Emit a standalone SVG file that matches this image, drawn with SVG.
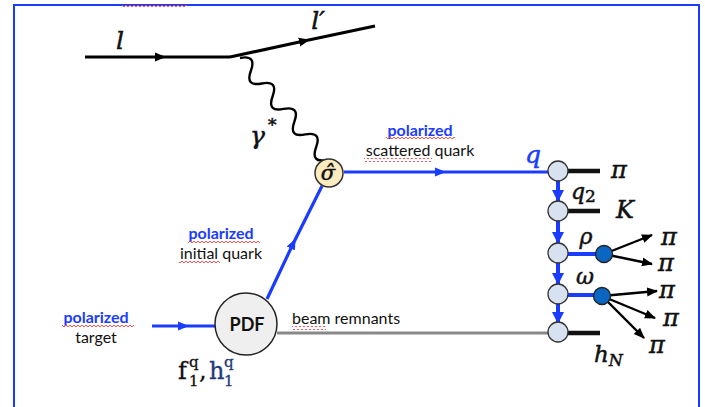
<svg xmlns="http://www.w3.org/2000/svg" width="705" height="407" viewBox="0 0 705 407">
<style>
.lab{font-family:Lato,"Open Sans","Liberation Sans",sans-serif;font-size:16px;fill:#111}
.pol{font-family:Lato,"Open Sans","Liberation Sans",sans-serif;font-size:16px;font-weight:bold;fill:#1a3cff}
.math{font-family:"DejaVu Serif","Liberation Serif",serif;font-style:italic;fill:#111;stroke:#111;stroke-width:0.5}
.mathr{font-family:"DejaVu Serif","Liberation Serif",serif;fill:#111;stroke:#111;stroke-width:0.3}
.blk{stroke:#000;stroke-width:3.2;fill:none}
.blu{stroke:#1a3cff;stroke-width:3.2;fill:none}
.stub{stroke:#111;stroke-width:4.5}
.fc{fill:#d8e1ef;stroke:#333;stroke-width:1.3}
.dc{fill:#0b66c2;stroke:#222;stroke-width:1.3}
.dec{stroke:#000;stroke-width:2.4;fill:none}
.sq{fill:url(#squig)}
</style>
<defs>
<marker id="mb" markerWidth="11" markerHeight="10" refX="5" refY="5" orient="auto" markerUnits="userSpaceOnUse"><path d="M0,0.5 L11,5 L0,9.5 Z" fill="#000"/></marker>
<marker id="mu" markerWidth="11" markerHeight="10" refX="5" refY="5" orient="auto" markerUnits="userSpaceOnUse"><path d="M0,0.5 L11,5 L0,9.5 Z" fill="#1a3cff"/></marker>
<marker id="mv" markerWidth="12" markerHeight="12" refX="11" refY="6" orient="auto" markerUnits="userSpaceOnUse"><path d="M0,0 L12,6 L0,12 Z" fill="#1a3cff"/></marker>
<marker id="ma" markerWidth="11" markerHeight="10" refX="10" refY="5" orient="auto" markerUnits="userSpaceOnUse"><path d="M0,0.5 L11,5 L0,9.5 Z" fill="#000"/></marker>
<pattern id="squig" width="4" height="4" patternUnits="userSpaceOnUse"><path d="M0,3 L2,1 L4,3" stroke="#ff4040" stroke-width="0.9" fill="none"/></pattern>
</defs>

<rect x="14" y="5" width="685" height="420" fill="none" stroke="#1a3cff" stroke-width="2"/>
<rect x="122" y="5" width="65" height="4" class="sq"/>

<g id="connectors">
<path class="blk" d="M85,57 L160,57 L230,57" marker-mid="url(#mb)"/>
<path class="blk" d="M230,57 L304,41 L375,26" marker-mid="url(#mb)"/>
<g transform="translate(240,58) rotate(49.5)"><path stroke="#000" stroke-width="2.4" fill="none" d="M0,0 q8.4,-15 16.75,0 t16.75,0 t16.75,0 t16.75,0 t16.75,0 t16.75,0 t16.75,0 t16.75,0"/></g>
<path class="blu" d="M344,172 L440,172 L548,172" marker-mid="url(#mu)"/>
<path class="blu" d="M267,299 L293,244 L322,186" marker-mid="url(#mu)"/>
<path class="blu" d="M152,326 L183,326 L215,326" marker-mid="url(#mu)"/>
<path d="M277,333 L548,333" stroke="#888" stroke-width="3"/>
<line x1="558" y1="181" x2="558" y2="201" stroke="#1a3cff" stroke-width="4" marker-end="url(#mv)"/>
<line x1="558" y1="221" x2="558" y2="243" stroke="#1a3cff" stroke-width="4" marker-end="url(#mv)"/>
<line x1="558" y1="263" x2="558" y2="284" stroke="#1a3cff" stroke-width="4" marker-end="url(#mv)"/>
<line x1="558" y1="303" x2="558" y2="323" stroke="#1a3cff" stroke-width="4" marker-end="url(#mv)"/>
<line class="stub" x1="567" y1="171" x2="600" y2="171"/>
<line class="stub" x1="567" y1="211" x2="600" y2="211"/>
<line class="stub" x1="567" y1="333" x2="600" y2="333"/>
<line x1="567" y1="254" x2="603" y2="254" stroke="#1a3cff" stroke-width="4"/>
<line x1="567" y1="295" x2="602" y2="295" stroke="#1a3cff" stroke-width="4"/>
<line class="dec" x1="604" y1="254" x2="652" y2="235" marker-end="url(#ma)"/>
<line class="dec" x1="604" y1="254" x2="652" y2="264" marker-end="url(#ma)"/>
<line class="dec" x1="602" y1="296" x2="657" y2="291" marker-end="url(#ma)"/>
<line class="dec" x1="602" y1="296" x2="655" y2="318" marker-end="url(#ma)"/>
<line class="dec" x1="602" y1="296" x2="644" y2="338" marker-end="url(#ma)"/>
</g>

<g id="sigma">
<circle cx="329" cy="173" r="14" fill="#fcecc0" stroke="#333" stroke-width="1.5"/>
<text x="328" y="180" class="math" font-size="21" text-anchor="middle">σ̂</text>
</g>

<g id="pdf">
<circle cx="246" cy="324" r="31" fill="#efefef" stroke="#222" stroke-width="1.5"/>
<text x="247" y="331" font-family="Lato,'Open Sans','Liberation Sans',sans-serif" font-size="18" font-weight="bold" text-anchor="middle" fill="#111">PDF</text>
</g>

<g id="frag">
<circle class="fc" cx="558" cy="171" r="10"/>
<circle class="fc" cx="558" cy="211" r="10"/>
<circle class="fc" cx="558" cy="253" r="10"/>
<circle class="fc" cx="558" cy="294" r="10"/>
<circle class="fc" cx="558" cy="332" r="10"/>
<circle class="dc" cx="604" cy="254" r="8.5"/>
<circle class="dc" cx="602" cy="296" r="8.5"/>
</g>

<g id="labels">
<text x="120" y="49" class="math" font-size="25" text-anchor="middle">l</text>
<text x="318" y="29" class="math" font-size="25" text-anchor="middle">l′</text>
<text x="250" y="144" class="math" font-size="25">γ</text>
<text x="268" y="131" class="math" font-size="17">*</text>
<text x="533" y="163" class="math" font-size="25" style="fill:#1a3cff;stroke:#1a3cff" text-anchor="middle">q</text>

<text x="420" y="136" class="pol" text-anchor="middle">polarized</text>
<rect x="386" y="137" width="69" height="4" class="sq"/>
<text x="420" y="156" class="lab" text-anchor="middle">scattered quark</text>
<rect x="364" y="158" width="68" height="4" class="sq"/>

<text x="221" y="239" class="pol" text-anchor="middle">polarized</text>
<rect x="188" y="240" width="72" height="4" class="sq"/>
<text x="221" y="259" class="lab" text-anchor="middle">initial quark</text>
<rect x="179" y="261" width="41" height="4" class="sq"/>

<text x="96" y="323" class="pol" text-anchor="middle">polarized</text>
<rect x="62" y="324" width="72" height="4" class="sq"/>
<text x="96" y="343" class="lab" text-anchor="middle">target</text>

<text x="292" y="324" class="lab">beam remnants</text>
<rect x="292" y="326" width="34" height="4" class="sq"/>

<text x="178" y="379" class="mathr" font-size="24">f</text>
<text x="189" y="367" class="mathr" font-size="15">q</text>
<text x="189" y="386" class="mathr" font-size="15">1</text>
<text x="199" y="379" class="mathr" font-size="24">,</text>
<text x="209" y="379" class="mathr" font-size="24" style="fill:#1f3a7a;stroke:#1f3a7a">h</text>
<text x="224" y="367" class="mathr" font-size="15" style="fill:#1f3a7a;stroke:#1f3a7a">q</text>
<text x="224" y="386" class="mathr" font-size="15" style="fill:#1f3a7a;stroke:#1f3a7a">1</text>

<text x="619" y="178" class="math" font-size="24" text-anchor="middle">π</text>
<text x="625" y="218" class="math" font-size="24" text-anchor="middle">K</text>
<text x="571" y="199" class="math" font-size="22">q<tspan font-size="17" font-style="normal" dy="3">2</tspan></text>
<text x="586" y="244" class="math" font-size="22" text-anchor="middle">ρ</text>
<text x="585" y="284" class="math" font-size="22" text-anchor="middle">ω</text>
<text x="669" y="245" class="math" font-size="24" text-anchor="middle">π</text>
<text x="666" y="271" class="math" font-size="24" text-anchor="middle">π</text>
<text x="667" y="298" class="math" font-size="24" text-anchor="middle">π</text>
<text x="671" y="326" class="math" font-size="24" text-anchor="middle">π</text>
<text x="657" y="353" class="math" font-size="24" text-anchor="middle">π</text>
<text x="594" y="362" class="math" font-size="23">h<tspan font-size="16" dy="4">N</tspan></text>
</g>
</svg>
